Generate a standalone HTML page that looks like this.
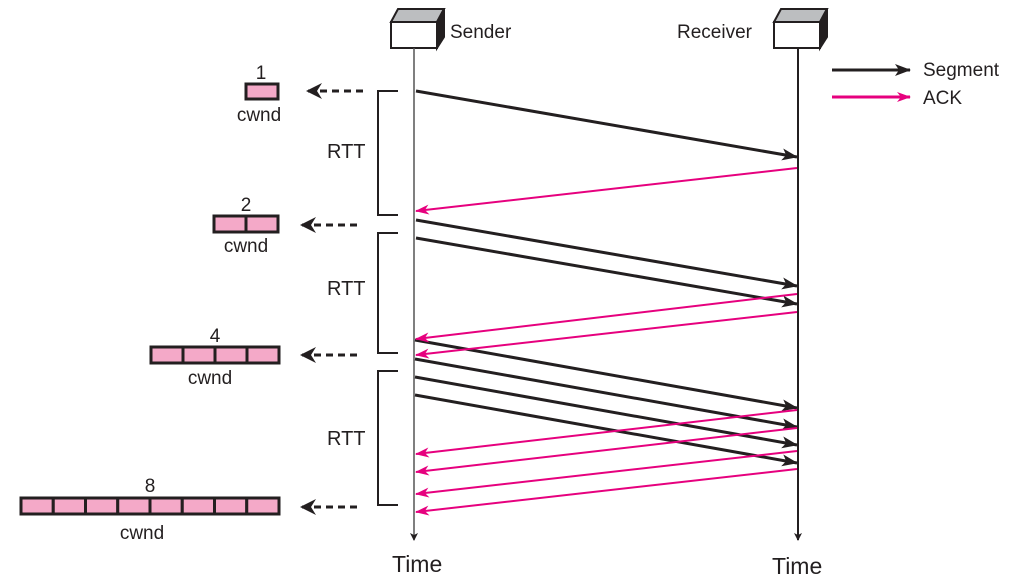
<!DOCTYPE html>
<html><head><meta charset="utf-8"><style>body{margin:0;background:#fff}svg{display:block}text{font-family:"Liberation Sans",sans-serif;fill:#231f20}</style></head><body>
<svg width="1011" height="578" viewBox="0 0 1011 578" xmlns="http://www.w3.org/2000/svg">
<defs>
<marker id="ab" markerWidth="16" markerHeight="12" refX="15" refY="6" orient="auto" markerUnits="userSpaceOnUse"><path d="M0,0 L16,6 L0,12 L4,6z" fill="#231f20"/></marker>
<marker id="am" markerWidth="14" markerHeight="10" refX="13" refY="5" orient="auto" markerUnits="userSpaceOnUse"><path d="M0,0 L14,5 L0,10 L4,5z" fill="#e6007e"/></marker>
<marker id="as" markerWidth="8" markerHeight="8" refX="7" refY="4" orient="auto" markerUnits="userSpaceOnUse"><path d="M0,0 L8,4 L0,8 L2,4z" fill="#231f20"/></marker>
<marker id="ad" markerWidth="16" markerHeight="16" refX="15" refY="8" orient="auto" markerUnits="userSpaceOnUse"><path d="M0,0 L16,8 L0,16 L5,8z" fill="#231f20"/></marker>
</defs>
<g stroke="#231f20" stroke-width="2">
<polygon points="391,22 398,9 444,9 437,22" fill="#bcbec0"/>
<polygon points="437,22 444,9 444,37 437,48" fill="#231f20"/>
<rect x="391" y="22" width="46" height="26" fill="#fff"/>
<polygon points="774,22 781,9 827,9 820,22" fill="#bcbec0"/>
<polygon points="820,22 827,9 827,37 820,48" fill="#231f20"/>
<rect x="774" y="22" width="46" height="26" fill="#fff"/>
</g>
<line x1="414" y1="48" x2="414" y2="540" stroke="#555" stroke-width="1.5" marker-end="url(#as)"/>
<line x1="798" y1="48" x2="798" y2="540" stroke="#231f20" stroke-width="2" marker-end="url(#as)"/>
<text x="450" y="38" font-size="19">Sender</text>
<text x="677" y="38" font-size="19">Receiver</text>
<text x="392" y="572" font-size="23">Time</text>
<text x="772" y="574" font-size="23">Time</text>
<line x1="832" y1="70" x2="910" y2="70" stroke="#231f20" stroke-width="3" marker-end="url(#ab)"/>
<line x1="832" y1="97" x2="910" y2="97" stroke="#e6007e" stroke-width="3" marker-end="url(#am)"/>
<text x="923" y="76" font-size="19">Segment</text>
<text x="923" y="104" font-size="19">ACK</text>
<g stroke="#231f20" stroke-width="3" marker-end="url(#ab)">
<line x1="416" y1="91" x2="797" y2="157"/>
<line x1="416" y1="220" x2="797" y2="286"/>
<line x1="416" y1="238" x2="797" y2="304"/>
<line x1="415" y1="340" x2="797" y2="408"/>
<line x1="415" y1="359" x2="797" y2="427"/>
<line x1="415" y1="377" x2="797" y2="445"/>
<line x1="415" y1="395" x2="797" y2="463"/>
</g>
<g stroke="#e6007e" stroke-width="2" marker-end="url(#am)">
<line x1="797" y1="168" x2="416" y2="211"/>
<line x1="797" y1="294" x2="416" y2="339"/>
<line x1="797" y1="312" x2="416" y2="355"/>
<line x1="797" y1="410" x2="416" y2="454"/>
<line x1="797" y1="428" x2="416" y2="472"/>
<line x1="797" y1="451" x2="416" y2="494"/>
<line x1="797" y1="469" x2="416" y2="512"/>
</g>
<g fill="none" stroke="#231f20" stroke-width="2">
<polyline points="398,91 378,91 378,215 398,215"/>
<polyline points="398,233 378,233 378,353 398,353"/>
<polyline points="398,371 378,371 378,505 398,505"/>
</g>
<text x="327" y="158" font-size="20">RTT</text>
<text x="327" y="295" font-size="20">RTT</text>
<text x="327" y="445" font-size="20">RTT</text>
<g stroke="#231f20" stroke-width="3" stroke-dasharray="7,5" marker-end="url(#ad)">
<line x1="363" y1="91" x2="307" y2="91"/>
<line x1="357" y1="225" x2="301" y2="225"/>
<line x1="357" y1="355" x2="301" y2="355"/>
<line x1="357" y1="507" x2="301" y2="507"/>
</g>
<g stroke="#231f20" stroke-width="3" fill="#f4a9c8">
<rect x="246" y="84" width="32" height="15"/>
<rect x="214" y="216" width="32" height="16"/><rect x="246" y="216" width="32" height="16"/>
<rect x="151" y="347" width="32" height="16"/><rect x="183" y="347" width="32" height="16"/><rect x="215" y="347" width="32" height="16"/><rect x="247" y="347" width="32" height="16"/>
<rect x="21" y="498" width="32.25" height="16"/><rect x="53.25" y="498" width="32.25" height="16"/><rect x="85.5" y="498" width="32.25" height="16"/><rect x="117.75" y="498" width="32.25" height="16"/><rect x="150" y="498" width="32.25" height="16"/><rect x="182.25" y="498" width="32.25" height="16"/><rect x="214.5" y="498" width="32.25" height="16"/><rect x="246.75" y="498" width="32.25" height="16"/>
</g>
<g font-size="19" text-anchor="middle">
<text x="261" y="79">1</text><text x="259" y="121">cwnd</text>
<text x="246" y="211">2</text><text x="246" y="252">cwnd</text>
<text x="215" y="342">4</text><text x="210" y="384">cwnd</text>
<text x="150" y="492">8</text><text x="142" y="539">cwnd</text>
</g>
</svg>
</body></html>
